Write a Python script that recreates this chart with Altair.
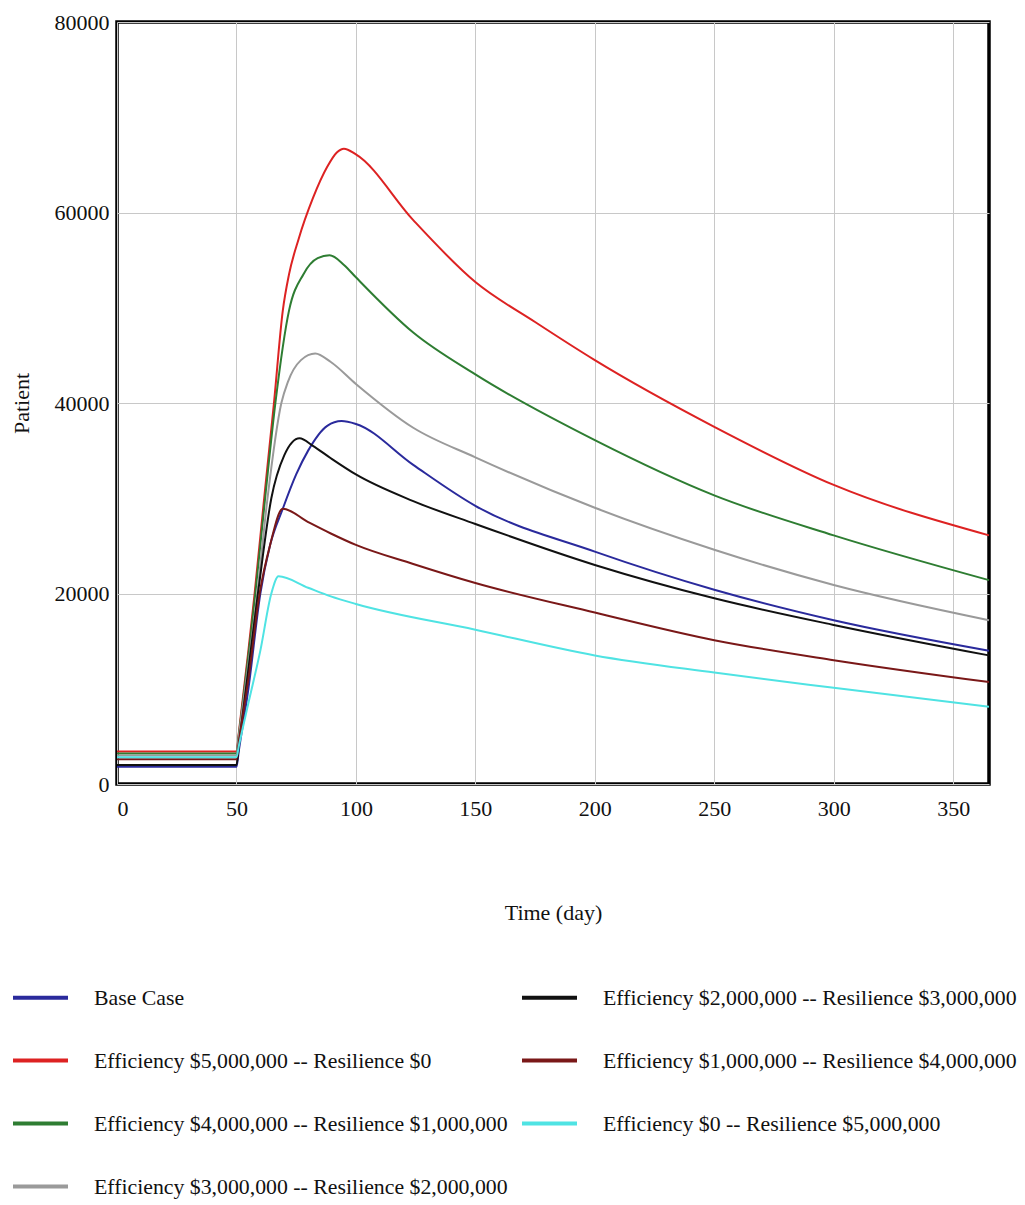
import altair as alt
import pandas as pd

# ---- data ----
series_names = [
    "Base Case",
    "Efficiency $5,000,000 -- Resilience $0",
    "Efficiency $4,000,000 -- Resilience $1,000,000",
    "Efficiency $3,000,000 -- Resilience $2,000,000",
    "Efficiency $2,000,000 -- Resilience $3,000,000",
    "Efficiency $1,000,000 -- Resilience $4,000,000",
    "Efficiency $0 -- Resilience $5,000,000",
]

base_days = [0, 50, 51, 55, 60, 64, 69.4, 75, 80, 88, 94, 100, 124, 150, 200, 250, 300, 365]
base_vals = [1800, 1800, 3500, 10000, 20000, 25000, 28900, 32500, 35000, 37600, 38100, 37800, 33500, 29200, 24400, 20400, 17200, 14000]

e5_days = [0, 50, 51, 55, 57.6, 62, 65.7, 69.4, 72, 76, 82, 88, 92, 95, 100, 124, 150, 175, 200, 250, 300, 365]
e5_vals = [3400, 3400, 5400, 14000, 20000, 31000, 40000, 49700, 53500, 57200, 61500, 64800, 66300, 66700, 66100, 59200, 52700, 48500, 44500, 37500, 31400, 26100]

e4_days = [0, 50, 51, 57.9, 62, 66.3, 72, 78, 84, 89, 95, 100, 124, 150, 200, 250, 300, 365]
e4_vals = [3200, 3200, 5200, 20000, 30000, 40000, 49700, 53500, 55200, 55500, 54500, 53200, 47400, 43000, 36100, 30300, 26100, 21400]

e3_days = [0, 50, 51, 58.7, 63, 68.8, 71.5, 77, 83, 89.5, 100, 124, 150, 200, 250, 300, 365]
e3_vals = [3000, 3000, 5000, 20000, 30000, 40000, 42200, 44500, 45200, 44300, 42000, 37400, 34300, 29000, 24600, 20900, 17200]

e2_days = [0, 50, 51, 59, 64.6, 70, 76.4, 82, 89.5, 100, 124, 150, 200, 250, 300, 365]
e2_vals = [2000, 2000, 4000, 20000, 30000, 34500, 36300, 35500, 34200, 32500, 29700, 27300, 23000, 19500, 16700, 13500]

e1_days = [0, 50, 51, 55, 59.7, 64, 69.4, 80, 89.5, 100, 124, 150, 200, 250, 300, 365]
e1_vals = [2600, 2600, 4400, 11000, 20000, 25000, 28900, 27500, 26300, 25100, 23100, 21100, 18000, 15100, 13000, 10700]

e0_days = [0, 50, 51, 55, 60, 64.6, 67.6, 80, 89.5, 100, 150, 200, 250, 300, 365]
e0_vals = [2800, 2800, 4000, 8500, 14000, 20000, 21800, 20600, 19700, 18900, 16200, 13500, 11700, 10100, 8100]

all_days = [base_days, e5_days, e4_days, e3_days, e2_days, e1_days, e0_days]
all_vals = [base_vals, e5_vals, e4_vals, e3_vals, e2_vals, e1_vals, e0_vals]

colors = ["#2a2a9c", "#dd2222", "#2e7d32", "#9a9a9a", "#111111", "#7a1818", "#4fe3e3"]

x_ticks = [0, 50, 100, 150, 200, 250, 300, 350]
y_ticks = [0, 20000, 40000, 60000, 80000]

rows = []
for name, d, v in zip(series_names, all_days, all_vals):
    for dd, vv in zip(d, v):
        rows.append({"series": name, "day": dd, "patient": vv})
df = pd.DataFrame(rows)

FONT = "Liberation Serif"

chart = alt.Chart(df).mark_line(strokeWidth=2, interpolate="monotone").encode(
    x=alt.X("day:Q", scale=alt.Scale(domain=[0, 365], nice=False, zero=False),
            axis=alt.Axis(values=x_ticks, title="Time (day)", format="d",
                          labelFont=FONT, titleFont=FONT,
                          labelFontSize=22, titleFontSize=22, titlePadding=83,
                          labelPadding=14, titleFontWeight="normal")),
    y=alt.Y("patient:Q", scale=alt.Scale(domain=[0, 80000], nice=False),
            axis=alt.Axis(values=y_ticks, title="Patient", format="d",
                          labelFont=FONT, titleFont=FONT,
                          labelFontSize=22, titleFontSize=22, titlePadding=21,
                          labelPadding=8, titleFontWeight="normal")),
    color=alt.Color("series:N", scale=alt.Scale(domain=series_names, range=colors),
                    legend=alt.Legend(title=None, orient="none", legendX=-106, legendY=946,
                                      columns=2, symbolType="stroke", symbolSize=3025,
                                      symbolStrokeWidth=4, labelFontSize=21.8, labelFont=FONT,
                                      labelOffset=24, columnPadding=6, rowPadding=21,
                                      labelLimit=600, labelColor="#111111")),
    detail="series:N",
).properties(
    width=872, height=762,
    padding={"left": 10, "top": 11, "right": 5, "bottom": 5},
).configure_axis(
    labelColor="#111111", titleColor="#111111",
    grid=True, gridColor="#c8c8c8", gridWidth=1, domain=False, ticks=False,
).configure_view(
    stroke="black", strokeWidth=3.5,
)

chart.save("out.html", embed_options={"renderer": "svg", "actions": False})
